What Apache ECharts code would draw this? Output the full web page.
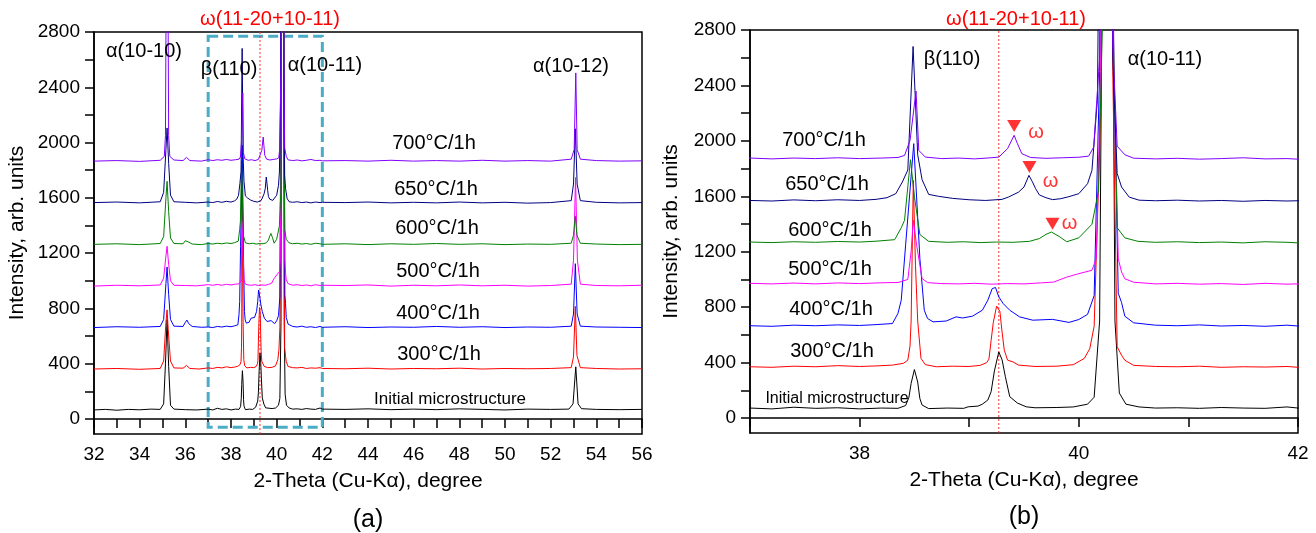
<!DOCTYPE html>
<html>
<head>
<meta charset="utf-8">
<script src="https://cdn.jsdelivr.net/npm/echarts@6/dist/echarts.min.js"></script>
<style>
html, body { margin: 0; background: #fff; }
#chart { width: 1316px; height: 533px; }
</style>
</head>
<body>
<div id="chart"></div>
<script>
// XRD patterns, [2-theta, intensity] (same data in both panels)
const initial = [[32,66],[32.5,70],[33,64],[33.5,70],[34,67],[34.5,72],[34.9,70],[35.05,110],[35.13,400],[35.2,720],[35.27,380],[35.35,100],[35.5,72],[36,68],[36.5,66],[37,72],[37.2,66],[37.4,78],[37.6,70],[37.8,74],[38,66],[38.2,72],[38.35,70],[38.42,90],[38.45,150],[38.47,250],[38.5,350],[38.53,260],[38.55,140],[38.57,94],[38.63,68],[38.8,72],[38.95,70],[38.99,81],[39.08,86],[39.12,100],[39.17,130],[39.2,190],[39.23,340],[39.27,477],[39.3,420],[39.33,298],[39.37,154],[39.44,108],[39.52,81],[39.6,74],[39.8,76],[39.95,80],[40.08,100],[40.14,150],[40.19,700],[40.265,9000],[40.33,700],[40.37,180],[40.43,100],[40.55,80],[40.7,72],[40.9,74],[41.1,70],[41.3,76],[41.5,72],[41.7,70],[41.9,80],[42,72],[43,70],[44,74],[45,68],[46,72],[47,68],[48,74],[49,70],[50,66],[51,72],[52,70],[52.8,72],[52.98,110],[53.1,378],[53.2,110],[53.35,75],[54,70],[55,68],[56,70]];
const t300 = [[32,362],[33,366],[34,360],[34.9,366],[35.05,420],[35.15,700],[35.2,790],[35.25,650],[35.35,420],[35.5,370],[35.9,368],[36.05,388],[36.2,366],[36.6,362],[37,370],[37.2,366],[37.4,374],[37.6,370],[37.8,378],[38,372],[38.15,376],[38.3,382],[38.4,395],[38.44,418],[38.46,520],[38.47,700],[38.49,1715],[38.51,1100],[38.53,700],[38.56,430],[38.6,385],[38.7,370],[38.85,374],[39,372],[39.1,380],[39.16,400],[39.18,425],[39.2,560],[39.22,690],[39.25,807],[39.28,770],[39.3,620],[39.32,490],[39.35,418],[39.4,405],[39.45,382],[39.6,372],[39.8,374],[39.95,385],[40.05,430],[40.1,500],[40.14,662],[40.2,2200],[40.25,9000],[40.31,2500],[40.35,515],[40.39,453],[40.42,417],[40.5,380],[40.7,372],[40.9,370],[41.1,374],[41.3,366],[41.5,370],[41.7,368],[41.9,372],[42,366],[43,364],[44,368],[45,362],[46,366],[47,364],[48,368],[49,362],[50,366],[51,364],[52,366],[52.9,372],[53.0,450],[53.08,815],[53.15,460],[53.3,372],[54,366],[55,362],[56,364]];
const t400 = [[32,662],[33,668],[34,664],[34.9,670],[35.05,720],[35.15,980],[35.2,1100],[35.27,900],[35.35,720],[35.5,672],[35.9,670],[36.0,700],[36.07,716],[36.15,690],[36.3,670],[36.7,664],[37,666],[37.2,662],[37.4,670],[37.6,666],[37.8,672],[38,668],[38.15,674],[38.3,682],[38.35,755],[38.38,850],[38.42,1250],[38.494,1980],[38.55,1150],[38.59,778],[38.62,718],[38.67,694],[38.79,700],[38.88,730],[38.94,722],[39.03,735],[39.12,778],[39.17,850],[39.21,934],[39.24,942],[39.27,874],[39.31,826],[39.37,778],[39.46,730],[39.58,706],[39.76,712],[39.91,690],[40.0,711],[40.08,748],[40.14,883],[40.19,2500],[40.25,9000],[40.32,2500],[40.36,900],[40.39,834],[40.42,735],[40.5,687],[40.7,670],[40.9,666],[41.1,672],[41.3,664],[41.5,668],[41.7,662],[41.9,670],[42,664],[43,668],[44,662],[45,666],[46,664],[47,670],[48,664],[49,668],[50,662],[51,666],[52,664],[52.9,672],[53.0,760],[53.08,1124],[53.16,760],[53.3,672],[54,666],[55,664],[56,662]];
const t500 = [[32,962],[33,968],[34,964],[34.9,970],[35.05,1020],[35.15,1180],[35.2,1250],[35.27,1120],[35.35,1000],[35.5,968],[36,966],[36.5,964],[37,972],[37.2,968],[37.4,974],[37.6,968],[37.8,975],[38,970],[38.2,976],[38.35,978],[38.44,1000],[38.47,1200],[38.49,1427],[38.52,1250],[38.57,1007],[38.62,977],[38.75,970],[38.9,968],[39.05,972],[39.2,966],[39.35,970],[39.5,968],[39.65,975],[39.77,981],[39.89,1017],[40.0,1042],[40.12,1066],[40.16,1152],[40.2,2500],[40.26,9000],[40.32,2500],[40.36,1150],[40.39,1054],[40.42,1005],[40.5,980],[40.7,968],[40.9,972],[41.1,966],[41.3,970],[41.5,964],[41.7,972],[41.9,966],[42,968],[43,966],[44,970],[45,962],[46,968],[47,964],[48,970],[49,964],[50,968],[51,962],[52,966],[52.9,976],[53.0,1150],[53.09,1747],[53.17,1150],[53.3,976],[54,966],[55,964],[56,968]];
const t600 = [[32,1264],[33,1268],[34,1262],[34.9,1270],[35.05,1320],[35.15,1600],[35.2,1720],[35.27,1500],[35.35,1310],[35.5,1270],[35.9,1268],[36.0,1290],[36.06,1300],[36.15,1280],[36.3,1266],[36.7,1262],[37,1270],[37.2,1266],[37.4,1272],[37.6,1268],[37.8,1274],[38,1270],[38.15,1276],[38.32,1287],[38.38,1373],[38.41,1427],[38.464,1864],[38.5,1600],[38.55,1324],[38.63,1275],[38.8,1268],[38.95,1272],[39.1,1266],[39.25,1270],[39.4,1268],[39.55,1275],[39.64,1295],[39.7,1325],[39.75,1342],[39.82,1311],[39.89,1272],[40.0,1300],[40.12,1398],[40.18,1640],[40.22,3000],[40.26,9000],[40.31,3000],[40.35,1373],[40.42,1300],[40.54,1275],[40.7,1268],[40.9,1272],[41.1,1266],[41.3,1270],[41.5,1264],[41.7,1272],[41.9,1268],[42,1264],[43,1268],[44,1262],[45,1268],[46,1264],[47,1270],[48,1264],[49,1268],[50,1262],[51,1266],[52,1264],[52.9,1272],[53.0,1330],[53.08,1467],[53.15,1330],[53.3,1272],[54,1266],[55,1262],[56,1264]];
const t650 = [[32,1566],[33,1570],[34,1564],[34.9,1572],[35.05,1640],[35.15,1950],[35.2,2106],[35.27,1850],[35.35,1620],[35.5,1572],[36,1568],[36.5,1564],[37,1570],[37.2,1566],[37.4,1574],[37.6,1568],[37.8,1575],[38,1570],[38.15,1578],[38.25,1590],[38.33,1619],[38.39,1703],[38.44,1790],[38.488,2681],[38.53,1900],[38.57,1720],[38.63,1614],[38.72,1600],[38.85,1585],[39.0,1575],[39.15,1570],[39.3,1578],[39.36,1595],[39.45,1630],[39.5,1667],[39.545,1751],[39.575,1707],[39.606,1655],[39.64,1610],[39.7,1590],[39.76,1576],[39.83,1582],[39.9,1595],[40.0,1619],[40.08,1691],[40.12,1787],[40.17,2300],[40.25,9000],[40.31,2600],[40.35,1765],[40.39,1667],[40.46,1594],[40.55,1572],[40.7,1568],[40.9,1572],[41.1,1566],[41.3,1570],[41.5,1564],[41.7,1570],[41.9,1566],[42,1568],[43,1566],[44,1570],[45,1564],[46,1568],[47,1564],[48,1570],[49,1564],[50,1568],[51,1562],[52,1566],[52.9,1580],[53.0,1700],[53.08,2100],[53.16,1700],[53.3,1580],[54,1568],[55,1564],[56,1566]];
const t700 = [[32,1866],[33,1870],[34,1864],[34.9,1872],[35.08,1900],[35.13,2050],[35.2,4500],[35.27,2050],[35.32,1900],[35.5,1874],[35.9,1870],[36.05,1893],[36.2,1870],[36.7,1866],[37,1876],[37.2,1870],[37.4,1876],[37.6,1872],[37.8,1878],[38,1872],[38.2,1876],[38.35,1880],[38.41,1895],[38.46,2003],[38.515,2359],[38.54,1931],[38.6,1883],[38.75,1872],[38.9,1876],[39.05,1870],[39.2,1878],[39.27,1883],[39.35,1944],[39.41,2040],[39.44,1980],[39.48,1908],[39.56,1880],[39.7,1874],[39.85,1878],[40.0,1882],[40.09,1890],[40.136,1955],[40.19,2600],[40.26,9000],[40.31,2700],[40.35,1962],[40.42,1900],[40.5,1875],[40.7,1870],[40.9,1874],[41.1,1868],[41.3,1872],[41.5,1878],[41.7,1870],[41.9,1872],[42,1868],[43,1870],[44,1866],[45,1872],[46,1866],[47,1870],[48,1866],[49,1872],[50,1866],[51,1870],[52,1866],[52.9,1880],[53.03,1950],[53.1,2504],[53.16,1950],[53.3,1880],[54,1870],[55,1866],[56,1868]];

const patterns = [initial, t300, t400, t500, t600, t650, t700];
const colors = ['#000000', '#ff0000', '#0000ff', '#ff00ff', '#008000', '#000080', '#8000ff'];
const patternNames = ['Initial microstructure', '300°C/1h', '400°C/1h', '500°C/1h', '600°C/1h', '650°C/1h', '700°C/1h'];

// omega markers in panel (b), omega reference position and zoom box of panel (a)
const omegaMarks = [[39.41, 2108], [39.55, 1811], [39.76, 1402]];
const omegaLine = [[39.27, -108], [39.27, 2800]];
const boxX = [37, 42];
const boxY = [-60, 2770];

// ticks and labels
const yTicks = [0,200,400,600,800,1000,1200,1400,1600,1800,2000,2200,2400,2600,2800];
const yLabels = [0,400,800,1200,1600,2000,2400,2800];
const xTicksA = [32,33,34,35,36,37,38,39,40,41,42,43,44,45,46,47,48,49,50,51,52,53,54,55,56];
const xLabelsA = [32,34,36,38,40,42,44,46,48,50,52,54,56];
const xTicksB = [37,38,39,40,41,42];
const xLabelsB = [38,40,42];

const FONT = '"Liberation Sans", Arial, sans-serif';

function xAxisFor(idx, min, max, ticks, labels) {
    return {
        type: 'value', gridIndex: idx, min: min, max: max,
        name: '2-Theta (Cu-Kα), degree',
        nameLocation: 'middle', nameGap: 37,
        nameTextStyle: { fontSize: 21, color: '#000', fontFamily: FONT },
        axisLine: { lineStyle: { color: '#000', width: 1.5 } },
        axisTick: { inside: false, length: 9, customValues: ticks, lineStyle: { color: '#000', width: 1.5 } },
        axisLabel: { customValues: labels, margin: 11, fontSize: 19, color: '#000', fontFamily: FONT,
                     formatter: function (v) { return String(v); } },
        splitLine: { show: false }
    };
}
function yAxisFor(idx, gap) {
    return {
        type: 'value', gridIndex: idx, min: -108, max: 2800,
        name: 'Intensity, arb. units',
        nameLocation: 'middle', nameGap: gap,
        nameTextStyle: { fontSize: 21, color: '#000', fontFamily: FONT },
        axisLine: { show: true, lineStyle: { color: '#000', width: 1.5 } },
        axisTick: { show: true, length: 9, customValues: yTicks, lineStyle: { color: '#000', width: 1.5 } },
        axisLabel: { customValues: yLabels, margin: 14, fontSize: 19, color: '#000', fontFamily: FONT,
                     formatter: function (v) { return String(v); } },
        splitLine: { show: false }
    };
}

const series = [];
[0, 1].forEach(function (p) {
    // red dotted guide at the omega position
    series.push({
        type: 'line', xAxisIndex: p, yAxisIndex: p, data: omegaLine,
        symbol: 'none', silent: true, animation: false,
        lineStyle: { color: '#ff3030', type: [2, 2], width: 1 }
    });
    patterns.forEach(function (d, i) {
        const s = {
            name: patternNames[i] + (p ? ' (b)' : ' (a)'),
            type: 'line', xAxisIndex: p, yAxisIndex: p,
            data: d, symbol: 'none', clip: true,
            lineStyle: { color: colors[i], width: 1 },
            animation: false, silent: true
        };
        if (p === 0 && i === patterns.length - 1) {
            s.markArea = {
                silent: true,
                itemStyle: { color: 'rgba(0,0,0,0)', borderColor: '#4bacc6', borderWidth: 3, borderType: [10, 5] },
                data: [[{ xAxis: boxX[0], yAxis: boxY[1] }, { xAxis: boxX[1], yAxis: boxY[0] }]]
            };
        }
        series.push(s);
    });
});

const omegaOffsets = [[22, 7], [21, 14], [17, 0]];
series.push({
    type: 'scatter', xAxisIndex: 1, yAxisIndex: 1,
    symbol: 'triangle', symbolRotate: 180, symbolSize: [14, 12],
    itemStyle: { color: '#ff0000' },
    animation: false, silent: true,
    data: omegaMarks.map(function (m, k) {
        return {
            value: m,
            label: { show: true, formatter: 'ω', position: 'inside', offset: omegaOffsets[k],
                     color: '#ff0000', fontSize: 20, fontFamily: FONT }
        };
    })
});

function txt(text, x, y, size, color) {
    return {
        type: 'text', x: x, y: y, silent: true, z: 100,
        style: { text: text, align: 'center', verticalAlign: 'middle',
                 font: size + 'px ' + FONT, fill: color || '#000' }
    };
}

const graphics = [
    txt('ω(11-20+10-11)', 270, 19, 20, '#ff0000'),
    txt('α(10-10)', 144, 51, 20),
    txt('β(110)', 229, 69, 20),
    txt('α(10-11)', 325, 65, 20),
    txt('α(10-12)', 571, 66, 20),
    txt('700°C/1h', 434, 143, 20),
    txt('650°C/1h', 436, 189, 20),
    txt('600°C/1h', 437, 228, 20),
    txt('500°C/1h', 438, 271, 20),
    txt('400°C/1h', 438, 313, 20),
    txt('300°C/1h', 439, 354, 20),
    txt('Initial microstructure', 450, 399, 17),
    txt('(a)', 368, 520, 25),

    txt('ω(11-20+10-11)', 1016, 19, 20, '#ff0000'),
    txt('β(110)', 952, 59, 20),
    txt('α(10-11)', 1165, 59, 20),
    txt('700°C/1h', 824, 140, 20),
    txt('650°C/1h', 827, 184, 20),
    txt('600°C/1h', 830, 230, 20),
    txt('500°C/1h', 830, 269, 20),
    txt('400°C/1h', 831, 309, 20),
    txt('300°C/1h', 832, 351, 20),
    txt('Initial microstructure', 837, 399, 16),
    txt('(b)', 1024, 517, 25)
];

const myChart = echarts.init(document.getElementById('chart'), null, { renderer: 'canvas' });
myChart.setOption({
    animation: false,
    backgroundColor: '#fff',
    textStyle: { fontFamily: FONT },
    grid: [
        { left: 94, top: 32, width: 548, height: 402, show: true, borderColor: '#000', borderWidth: 1.5, backgroundColor: 'transparent' },
        { left: 750, top: 30, width: 548, height: 403, show: true, borderColor: '#000', borderWidth: 1.5, backgroundColor: 'transparent' }
    ],
    xAxis: [xAxisFor(0, 32, 56, xTicksA, xLabelsA), xAxisFor(1, 37, 42, xTicksB, xLabelsB)],
    yAxis: [yAxisFor(0, 66), yAxisFor(1, 68)],
    series: series,
    graphic: graphics
});
</script>
</body>
</html>
